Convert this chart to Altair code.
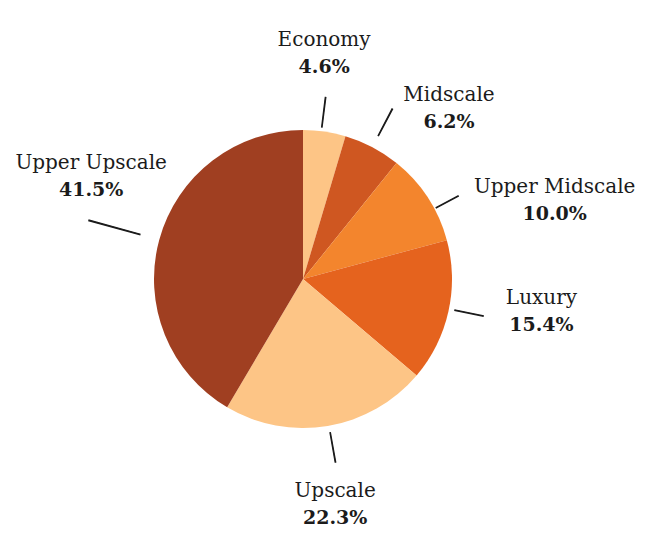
import altair as alt
import pandas as pd

categories = ["Economy", "Midscale", "Upper Midscale", "Luxury", "Upscale", "Upper Upscale"]
shares = [4.6, 6.2, 10.0, 15.4, 22.3, 41.5]
share_labels = ["4.6%", "6.2%", "10.0%", "15.4%", "22.3%", "41.5%"]
colors = ["#fdc586", "#cf5721", "#f3852d", "#e5631e", "#fdc586", "#a03f21"]

df = pd.DataFrame({
    "category": categories,
    "share": shares,
    "pct": share_labels,
    "order": list(range(len(categories))),
})

# layout tweaks: label nudges (dx, dy) and leader (angle shift deg, inner r, outer r)
label_nudge = {
    "Economy": (-12, 2),
    "Midscale": (39, 33),
    "Upper Midscale": (59, 47),
    "Luxury": (14, -18),
    "Upscale": (-6, -2),
    "Upper Upscale": (10, -42),
}
leader = {
    "Economy": (-1.2, 153, 183),
    "Midscale": (0, 162, 192),
    "Upper Midscale": (5, 151, 176),
    "Luxury": (-1, 155, 184),
    "Upscale": (-0.5, 156, 186),
    "Upper Upscale": (0, 169, 222),
}

FONT = "DejaVu Serif"
INK = "#1b1b1b"

base = alt.Chart(df).transform_window(
    cum="sum(share)", sort=[alt.SortField("order")], frame=[None, 0]
).transform_joinaggregate(total="sum(share)").transform_calculate(
    start="2*PI*(datum.cum - datum.share)/datum.total",
    end="2*PI*datum.cum/datum.total",
    mid="2*PI*(datum.cum - datum.share/2)/datum.total",
)

pie = base.mark_arc(radius=149).encode(
    theta=alt.Theta("start:Q", scale=None),
    theta2="end:Q",
    color=alt.Color("category:N", scale=alt.Scale(domain=categories, range=colors), legend=None),
    order=alt.Order("order:Q"),
)

layers = [pie]
for cat in categories:
    shift, r_in, r_out = leader[cat]
    sub = base.transform_filter(alt.datum.category == cat).transform_calculate(
        a0=f"datum.mid + {shift}*PI/180 - 0.002",
        a1=f"datum.mid + {shift}*PI/180 + 0.002",
    )
    layers.append(
        sub.mark_arc(radius=r_out, radius2=r_in, fill=INK, stroke=INK, strokeWidth=1.1).encode(
            theta=alt.Theta("a0:Q", scale=None), theta2="a1:Q"
        )
    )
    dx, dy = label_nudge[cat]
    tsub = base.transform_filter(alt.datum.category == cat)
    layers.append(
        tsub.mark_text(radius=230, dx=dx, dy=dy - 13, font=FONT, fontSize=20, color=INK,
                       align="center", baseline="middle").encode(
            theta=alt.Theta("mid:Q", scale=None), text="category:N"
        )
    )
    layers.append(
        tsub.mark_text(radius=230, dx=dx, dy=dy + 14, font=FONT, fontSize=19, fontWeight="bold",
                       color=INK, align="center", baseline="middle").encode(
            theta=alt.Theta("mid:Q", scale=None), text="pct:N"
        )
    )

chart = alt.layer(*layers).properties(
    width=606, height=558, autosize="none",
    padding={"left": 0, "right": 40, "top": 0, "bottom": 0},
).configure_view(stroke=None)

chart.save("out.html", embed_options={"renderer": "svg", "actions": False})
